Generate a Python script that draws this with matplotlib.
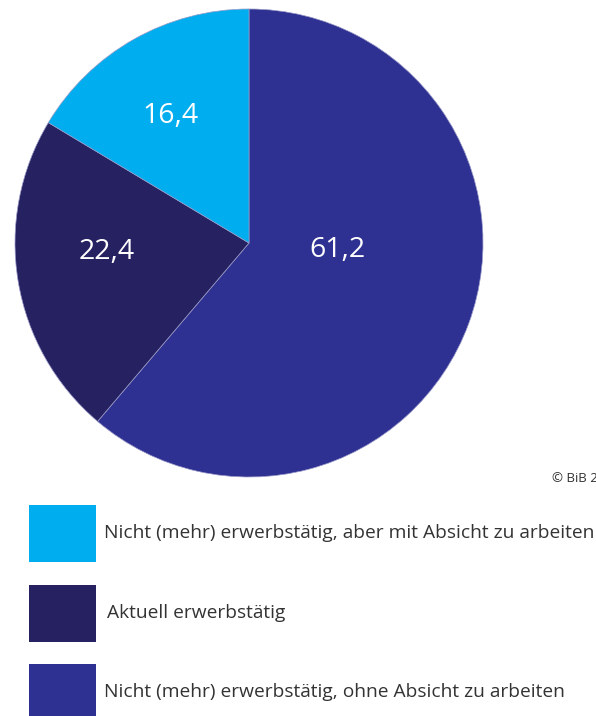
import matplotlib
matplotlib.use("Agg")
import matplotlib.pyplot as plt
from matplotlib.patches import Rectangle

categories = ["Nicht (mehr) erwerbstätig, ohne Absicht zu arbeiten",
              "Aktuell erwerbstätig",
              "Nicht (mehr) erwerbstätig, aber mit Absicht zu arbeiten"]
values = [61.2, 22.4, 16.4]
colors = ["#2E3192", "#262262", "#00AEEF"]
value_labels = ["61,2", "22,4", "16,4"]
legend_order = [2, 1, 0]
credit = "© BiB 2022"

W, H = 596, 716
fig = plt.figure(figsize=(W / 100, H / 100), dpi=100)
ax = fig.add_axes([0, 0, 1, 1])
ax.set_xlim(0, W)
ax.set_ylim(0, H)
ax.set_aspect("equal")
ax.axis("off")

cx, cy, r = 249, H - 243, 234
wedges, _ = ax.pie(values, colors=colors, startangle=90, counterclock=False,
                   center=(cx, cy), radius=r,
                   wedgeprops=dict(edgecolor="#9a9ac8", linewidth=0.5))
ax.set_xlim(0, W)
ax.set_ylim(0, H)

label_pos = [(337, 250), (107, 252), (171, 116)]
for (lx, ly), t in zip(label_pos, value_labels):
    ax.text(lx, H - ly, t, color="white", fontsize=20.5, ha="center", va="center",
            family="Open Sans")

ax.text(552, H - 478, credit, fontsize=9.5, ha="left", va="center",
        color="#333333", family="Open Sans")

rows_y = [533, 613, 692]
for i, (idx, yc) in enumerate(zip(legend_order, rows_y)):
    ax.add_patch(Rectangle((28.5, H - yc - 28.5), 67, 57, facecolor=colors[idx],
                           edgecolor="none"))
    ax.text(104 if i != 1 else 107, H - yc, categories[idx], fontsize=13.8,
            ha="left", va="center", color="#333333", family="Open Sans")

fig.savefig("out.png", dpi=100)
